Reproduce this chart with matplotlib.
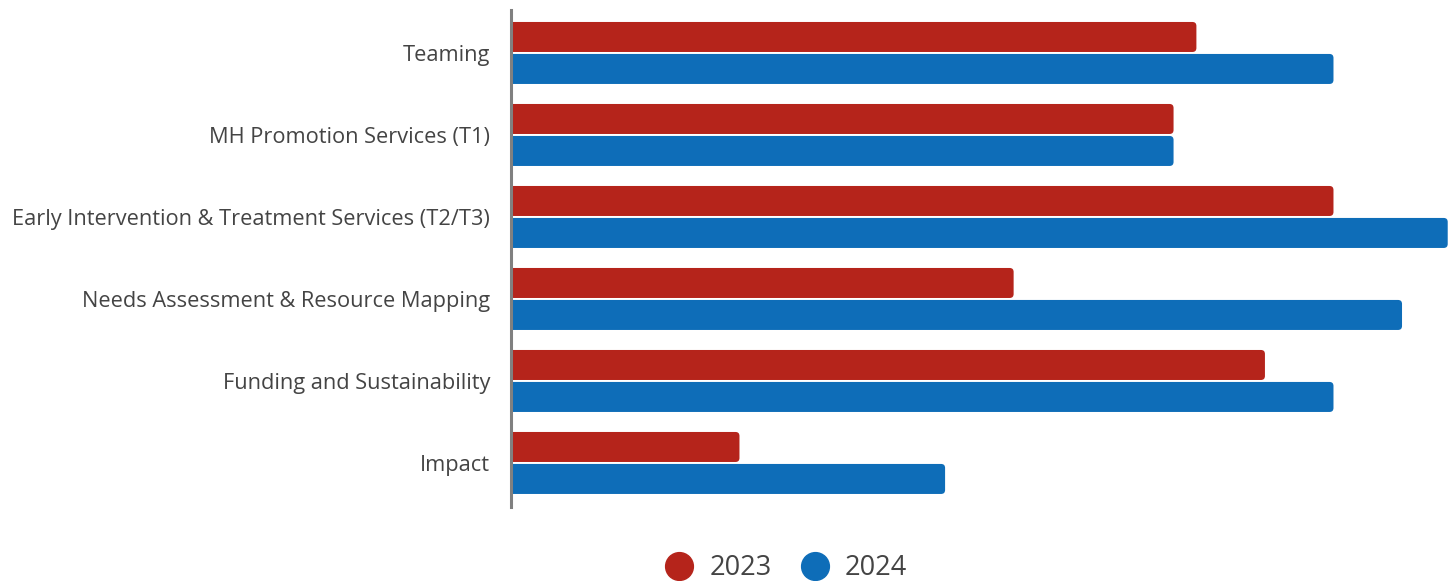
import matplotlib
matplotlib.use("Agg")
import matplotlib.pyplot as plt
from matplotlib.patches import FancyBboxPatch
from matplotlib.lines import Line2D
import numpy as np

plt.rcParams["font.family"] = ["Open Sans", "DejaVu Sans"]

categories = [
    "Teaming",
    "MH Promotion Services (T1)",
    "Early Intervention & Treatment Services (T2/T3)",
    "Needs Assessment & Resource Mapping",
    "Funding and Sustainability",
    "Impact",
]
values_2023 = [30, 29, 36, 22, 33, 10]
values_2024 = [36, 29, 41, 39, 36, 19]
series_labels = ["2023", "2024"]

RED = "#B5241B"
BLUE = "#0E6DB8"
TEXT = "#444444"

fig = plt.figure(figsize=(14.55, 5.81), dpi=100)
ax = fig.add_axes([511 / 1455, 1 - 507 / 581, (1450 - 511) / 1455, (507 - 10) / 581])

y = np.arange(len(categories))
height = 0.366
offset = 0.195
xmax = 41.1
ax.set_xlim(0, xmax)
ax.set_ylim(5.537, -0.524)

# rounding in x units, scaled to y units so corners look round on screen
px_x = ax.get_position().width * 1455 / xmax
px_y = ax.get_position().height * 581 / 6.061
r = 4 / px_x
aspect = px_x / px_y


def rounded_bar(value, ypos, color):
    box = FancyBboxPatch(
        (-1, ypos - height / 2), value + 1, height,
        boxstyle=f"round,pad=0,rounding_size={r}",
        mutation_aspect=aspect,
        facecolor=color, edgecolor="none",
    )
    ax.add_patch(box)


for i in range(len(categories)):
    rounded_bar(values_2023[i], y[i] - offset, RED)
    rounded_bar(values_2024[i], y[i] + offset, BLUE)

ax.set_yticks(y)
ax.set_yticklabels(categories, fontsize=15.7, color=TEXT)
ax.tick_params(axis="y", length=0, pad=15)
ax.set_xticks([])

for side in ["top", "right", "bottom"]:
    ax.spines[side].set_visible(False)
ax.spines["left"].set_color("#808080")
ax.spines["left"].set_linewidth(2.2)
ax.spines["left"].set_zorder(5)

handles = [
    Line2D([], [], marker="o", linestyle="none", markersize=20,
           markerfacecolor=RED, markeredgecolor=RED),
    Line2D([], [], marker="o", linestyle="none", markersize=20,
           markerfacecolor=BLUE, markeredgecolor=BLUE),
]
leg = fig.legend(handles, series_labels, loc="center", ncol=2,
                 bbox_to_anchor=(785 / 1455, 1 - 568 / 581),
                 frameon=False, fontsize=19.5, handletextpad=0.5,
                 columnspacing=1.0, handlelength=1.2)
for t in leg.get_texts():
    t.set_color(TEXT)

fig.savefig("out.png", dpi=100)
